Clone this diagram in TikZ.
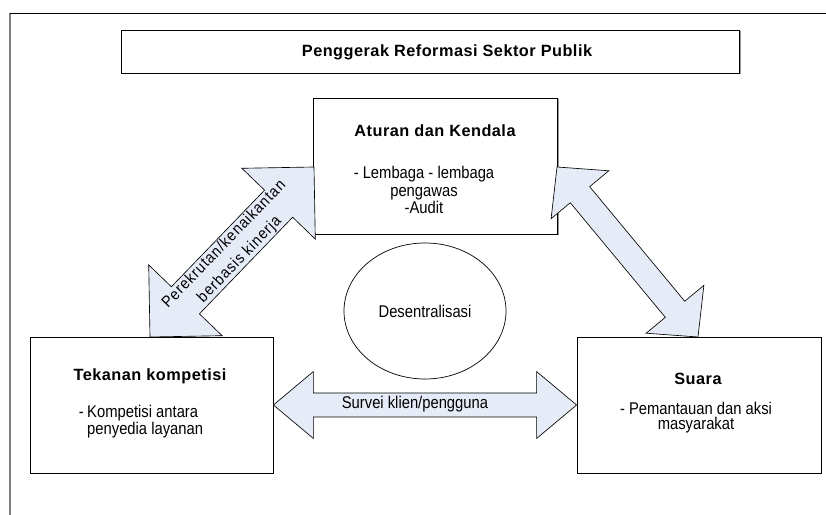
\documentclass[tikz,border=0pt]{standalone}
\usepackage{fontspec}
\setmainfont{Liberation Sans}[FakeStretch=0.87]
\newfontfamily\hdfont{Liberation Sans}[BoldFeatures={LetterSpace=3}]
\newfontfamily\spfont{Liberation Sans}[FakeStretch=0.9,LetterSpace=6]
\usetikzlibrary{calc,shadows,shapes.geometric}
\definecolor{arrowfill}{HTML}{E5EBF7}
\tikzset{
  box/.style={draw=black, line width=0.7pt, fill=white, inner sep=0pt},
  shbox/.style={box, drop shadow={shadow xshift=0.045cm, shadow yshift=-0.045cm, fill=gray!85, opacity=1}},
  hd/.style={font=\hdfont\bfseries\fontsize{13.9}{16}\selectfont, inner sep=0pt},
  bodytxt/.style={font=\fontsize{14.5}{12.8}\selectfont, align=center, inner sep=0pt},
  blockarrow/.style={draw=black, line width=0.55pt, fill=arrowfill, line join=miter},
  frametop/.style={draw=black, line width=0.8pt},
  frameleft/.style={draw=gray, line width=1.6pt},
}
% double block arrow: #1 start, #2 end, #3 shaft half width, #4 head half width, #5 head length
\newcommand\dblblockarrow[5]{%
  \draw[blockarrow] (#1)
    -- ($(#1)!#5!(#2)!#4!90:(#2)$)
    -- ($(#1)!#5!(#2)!#3!90:(#2)$)
    -- ($(#2)!#5!(#1)!#3!-90:(#1)$)
    -- ($(#2)!#5!(#1)!#4!-90:(#1)$)
    -- (#2)
    -- ($(#2)!#5!(#1)!#4!90:(#1)$)
    -- ($(#2)!#5!(#1)!#3!90:(#1)$)
    -- ($(#1)!#5!(#2)!#3!-90:(#2)$)
    -- ($(#1)!#5!(#2)!#4!-90:(#2)$)
    -- cycle;}
\begin{document}
\begin{tikzpicture}[x=0.03cm, y=-0.03cm]
  \useasboundingbox (0,0) rectangle (826,515);
  % outer frame
  \coordinate (fTL) at (10,13);
  \coordinate (fTR) at (826,13);
  \coordinate (fBL) at (10,515);
  \draw[frameleft] (fTL) -- (fBL);
  \draw[frametop] (fTL) -- (fTR);
  % title
  \node[shbox, minimum width=18.54cm, minimum height=1.29cm] (ttl) at (430,51.5) {};
  \node[hd] (ttlT) at (447,52) {Penggerak Reformasi Sektor Publik};
  % boxes
  \node[shbox, minimum width=7.32cm, minimum height=4.08cm] (atu) at (435,166) {};
  \node[box, minimum width=7.29cm, minimum height=4.08cm] (tek) at (151.5,405) {};
  \node[box, minimum width=7.32cm, minimum height=4.08cm] (sua) at (699,405) {};
  % ellipse
  \node[draw=black, line width=0.6pt, ellipse, minimum width=4.86cm, minimum height=4.08cm, inner sep=0pt,
        font=\fontsize{14.5}{15}\selectfont] (ell) at (425,311) {Desentralisasi};
  % texts in boxes
  \node[hd] (atuT) at (435,131) {Aturan dan Kendala};
  \node[bodytxt, font=\fontsize{14.5}{14.9}\selectfont] (atuB) at (424,190) {- Lembaga - lembaga\\pengawas\\-Audit};
  \node[hd] (tekT) at (150,376) {Tekanan kompetisi};
  \node[bodytxt, align=left, anchor=west] (tekB) at (87,422) {\llap{-\hspace{0.2em}}Kompetisi antara\\penyedia layanan};
  \node[hd] (suaT) at (698,379) {Suara};
  \node[bodytxt] (suaB) at (696,418) {- Pemantauan dan aksi\\masyarakat};
  % arrows
  \coordinate (lA) at (150,337);
  \coordinate (lB) at (314,167);
  \coordinate (rA) at (557,167);
  \coordinate (rB) at (698,337);
  \dblblockarrow{lA}{lB}{0.585cm}{1.53cm}{1.53cm}
  \dblblockarrow{rA}{rB}{0.378cm}{1.125cm}{1.08cm}
  \dblblockarrow{tek.east}{sua.west}{0.36cm}{1.005cm}{1.2cm}
  % arrow labels
  \node[rotate=46, align=center, inner sep=0pt, font=\spfont\fontsize{13.5}{18.5}\selectfont] (lbl) at (232,252) {Perekrutan/kenaikantan\\berbasis kinerja};
  \node[inner sep=0pt, font=\fontsize{14.5}{15}\selectfont] (srv) at (415,404) {Survei klien/pengguna};
\end{tikzpicture}
\end{document}
